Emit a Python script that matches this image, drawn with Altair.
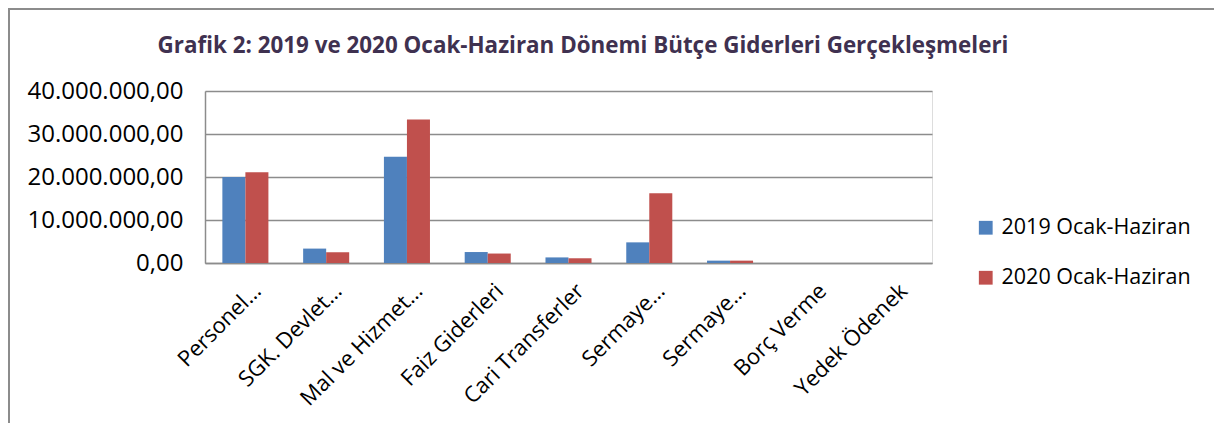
import altair as alt
import pandas as pd

full_names = [
    "Personel Giderleri",
    "SGK. Devlet Primi Giderleri",
    "Mal ve Hizmet Alım Giderleri",
    "Faiz Giderleri",
    "Cari Transferler",
    "Sermaye Giderleri",
    "Sermaye Transferleri",
    "Borç Verme",
    "Yedek Ödenek",
]
short_labels = [
    "Personel…",
    "SGK. Devlet…",
    "Mal ve Hizmet…",
    "Faiz Giderleri",
    "Cari Transferler",
    "Sermaye…",
    "Sermaye…",
    "Borç Verme",
    "Yedek Ödenek",
]
series = ["2019 Ocak-Haziran", "2020 Ocak-Haziran"]
v2019 = [20.0e6, 3.35e6, 24.7e6, 2.55e6, 1.3e6, 4.8e6, 0.55e6, 0.0, 0.0]
v2020 = [21.1e6, 2.5e6, 33.4e6, 2.2e6, 1.1e6, 16.2e6, 0.55e6, 0.0, 0.0]
colors = ["#4F81BD", "#C0504D"]
y_ticks = [0, 10e6, 20e6, 30e6, 40e6]
title_text = "Grafik 2: 2019 ve 2020 Ocak-Haziran Dönemi Bütçe Giderleri Gerçekleşmeleri"

rows = []
for i, name in enumerate(full_names):
    rows.append({"kalem": name, "donem": series[0], "deger": v2019[i]})
    rows.append({"kalem": name, "donem": series[1], "deger": v2020[i]})
df = pd.DataFrame(rows)

W, H = 727, 172
FONT = "Open Sans"
GRID = "#8C8C8C"

names_js = "[" + ",".join("'" + n + "'" for n in full_names) + "]"
labels_js = "[" + ",".join("'" + s + "'" for s in short_labels) + "]"
x_label_expr = f"{labels_js}[indexof({names_js}, datum.value)]"
y_label_expr = (
    "join(split(split(format(datum.value, ',.2f'), '.')[0], ','), '.') + ',' + "
    "split(format(datum.value, ',.2f'), '.')[1]"
)

bars = alt.Chart(df).mark_bar().encode(
    x=alt.X(
        "kalem:N",
        sort=full_names,
        scale=alt.Scale(paddingInner=0.43, paddingOuter=0.215),
        axis=alt.Axis(
            title=None,
            labelAngle=-45,
            labelAlign="right",
            labelBaseline="middle",
            labelExpr=x_label_expr,
            labelFont=FONT,
            labelFontSize=22,
            labelColor="#000000",
            labelPadding=24,
            labelOffset=12,
            ticks=False,
            domainColor=GRID,
            domainWidth=1.5,
            labelLimit=400,
        ),
    ),
    xOffset=alt.XOffset("donem:N", sort=series),
    y=alt.Y(
        "deger:Q",
        scale=alt.Scale(domain=[0, 40e6]),
        axis=alt.Axis(
            title=None,
            values=y_ticks,
            labelExpr=y_label_expr,
            labelFont=FONT,
            labelFontSize=24,
            labelColor="#000000",
            labelPadding=22,
            ticks=False,
            grid=True,
            gridColor=GRID,
            gridWidth=1.5,
            domainColor=GRID,
            domainWidth=1.5,
        ),
    ),
    color=alt.Color(
        "donem:N",
        sort=series,
        scale=alt.Scale(domain=series, range=colors),
        legend=alt.Legend(
            title=None,
            orient="none",
            legendX=770,
            legendY=126,
            symbolType="square",
            symbolSize=190,
            symbolStrokeWidth=0,
            labelFont=FONT,
            labelFontSize=21.5,
            labelColor="#000000",
            labelOffset=5,
            labelLimit=400,
            rowPadding=27,
        ),
    ),
)

one = alt.Data(values=[{}])

frame = alt.Chart(one).mark_rect(
    filled=False, stroke="#8C8C8C", strokeWidth=2
).encode(
    x=alt.value(-196),
    x2=alt.value(W + 400),
    y=alt.value(-82),
    y2=alt.value(H + 400),
)

title = alt.Chart(one).mark_text(
    font=FONT,
    fontSize=22.4,
    fontWeight="bold",
    color="#3F3150",
    align="center",
    baseline="alphabetic",
).encode(
    x=alt.value(378),
    y=alt.value(-38),
    text=alt.value(title_text),
)

chart = alt.layer(frame, title, bars).properties(
    width=W,
    height=H,
    autosize=alt.AutoSizeParams(type="none"),
    padding={"left": 197, "top": 83, "right": 282, "bottom": 160},
).configure_view(stroke=None).configure(background="white")

chart.save("out.html", embed_options={"renderer": "svg", "actions": False})
